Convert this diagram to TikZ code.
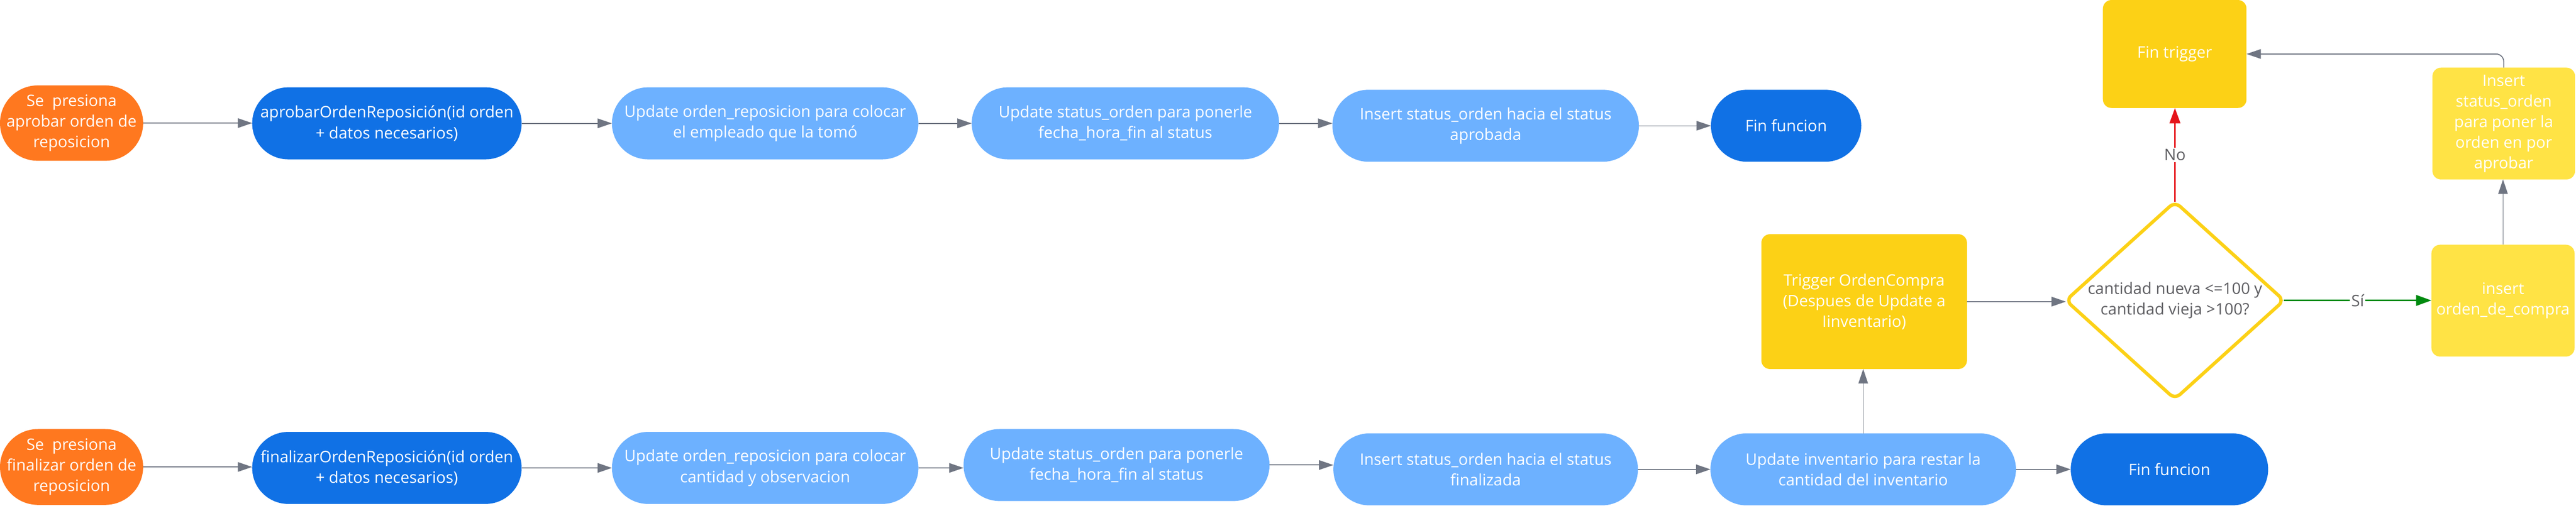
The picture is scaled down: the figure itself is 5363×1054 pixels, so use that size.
\documentclass[tikz,border=0pt]{standalone}
\usepackage{fontspec}
\setmainfont{Open Sans}
\usetikzlibrary{arrows.meta,shapes.geometric}
\definecolor{corange}{HTML}{FF781F}
\definecolor{cdblue}{HTML}{1071E5}
\definecolor{clblue}{HTML}{6DB1FF}
\definecolor{cyellow}{HTML}{FCD116}
\definecolor{clyellow}{HTML}{FFE345}
\definecolor{cgray}{HTML}{6F7582}
\definecolor{cred}{HTML}{E5141A}
\definecolor{cgreen}{HTML}{008A0F}
\definecolor{ctext}{HTML}{5E5E62}
\newcommand\fsz{\fontsize{16.5}{21.5}\selectfont}
\tikzset{
  base/.style={inner sep=0pt, outer sep=0pt, align=center, font=\fsz, text=white},
  pill/.style={base, minimum height=75pt, rounded corners=37.5pt},
  boxr/.style={base, rounded corners=9pt},
  conn/.style={draw=cgray, line width=1pt, -{Triangle[length=15pt,width=10pt]}},
  thin/.style={conn, line width=0.5pt},
  nolink/.style={draw=cred, line width=2pt, -{Triangle[length=16pt,width=11pt]}},
  silink/.style={draw=cgreen, line width=2pt, -{Triangle[length=16pt,width=11pt]}},
  lbl/.style={fill=white, text=ctext, font=\fsz, inner sep=1.5pt},
  dtext/.style={align=center, text=ctext, font=\fsz, inner sep=0pt}
}
\begin{document}
\begin{tikzpicture}[x=0.5pt,y=-0.5pt]
\useasboundingbox (0,0) rectangle (5363,1054);
% top row
\node[base, fill=corange, minimum width=149pt, minimum height=78.5pt, rounded corners=39.25pt] (o1) at (149,256.5) {Se~~presiona\\aprobar orden de\\reposicion};
\node[pill, fill=cdblue, minimum width=280.5pt] (a1) at (805.5,257) {aprobarOrdenReposición(id orden\\+ datos necesarios)};
\node[pill, fill=clblue, minimum width=319pt] (u1) at (1593,257) {Update orden\_reposicion para colocar\\el empleado que la tomó};
\node[pill, fill=clblue, minimum width=320pt] (s1) at (2343,257) {Update status\_orden para ponerle\\fecha\_hora\_fin al status};
\node[pill, fill=clblue, minimum width=319pt] (i1) at (3093,262) {Insert status\_orden hacia el status\\aprobada};
\node[pill, fill=cdblue, minimum width=156.5pt] (f1) at (3718.5,262) {Fin funcion};
% bottom row
\node[base, fill=corange, minimum width=149pt, minimum height=79pt, rounded corners=39.5pt] (o2) at (149,973) {Se~~presiona\\finalizar orden de\\reposicion};
\node[pill, fill=cdblue, minimum width=280.5pt] (a2) at (805.5,975) {finalizarOrdenReposición(id orden\\+ datos necesarios)};
\node[pill, fill=clblue, minimum width=319pt] (u2) at (1593,975) {Update orden\_reposicion para colocar\\cantidad y observacion};
\node[pill, fill=clblue, minimum width=318.5pt] (s2) at (2324.5,969) {Update status\_orden para ponerle\\fecha\_hora\_fin al status};
\node[pill, fill=clblue, minimum width=317pt] (i2) at (3093,978) {Insert status\_orden hacia el status\\finalizada};
\node[pill, fill=clblue, minimum width=318pt] (v2) at (3879,978) {Update inventario para restar la\\cantidad del inventario};
\node[pill, fill=cdblue, minimum width=205.5pt] (f2) at (4516.5,978) {Fin funcion};
% trigger section
\node[boxr, fill=cyellow, minimum width=214pt, minimum height=140.5pt] (trig) at (3881,628.5) {Trigger OrdenCompra\\(Despues de Update a\\Iinventario)};
\node[shape=diamond, draw=cyellow, line width=3.5pt, fill=white, minimum width=227pt, minimum height=205.5pt, inner sep=0pt, outer sep=0pt, rounded corners=7pt, label={[dtext]center:{cantidad nueva <=100 y\\cantidad vieja >100?}}] (dia) at (4528,626) {};
\node[boxr, fill=clyellow, minimum width=149pt, minimum height=116.5pt] (oc) at (5211,626.5) {insert\\orden\_de\_compra};
\node[boxr, fill=clyellow, minimum width=148.5pt, minimum height=116.5pt] (is) at (5212.5,257.5) {Insert\\status\_orden\\para poner la\\orden en por\\aprobar};
\node[boxr, fill=cyellow, minimum width=149.5pt, minimum height=112.5pt] (ft) at (4527.5,112.5) {Fin trigger};
% connectors top
\draw[conn] (o1.east) -- (o1.east -| a1.west);
\draw[conn] (a1.east) -- (a1.east -| u1.west);
\draw[conn] (u1.east) -- (u1.east -| s1.west);
\draw[conn] (s1.east) -- (s1.east -| i1.west);
\draw[thin] (i1.east) -- (i1.east -| f1.west);
% connectors bottom
\draw[conn] (o2.east) -- (o2.east -| a2.west);
\draw[conn] (a2.east) -- (a2.east -| u2.west);
\draw[conn] (u2.east) -- (u2.east -| s2.west);
\draw[conn] (s2.east) -- (s2.east -| i2.west);
\draw[conn] (i2.east) -- (i2.east -| v2.west);
\draw[conn] (v2.east) -- (v2.east -| f2.west);
% trigger connectors
\draw[thin] (v2.north) -- (v2.north |- trig.south);
\draw[conn] (trig.east) -- (trig.east -| dia.west);
\draw[silink] (dia.east) -- node[lbl]{Sí} (dia.east -| oc.west);
\draw[nolink] (dia.north) -- node[lbl]{No} (dia.north |- ft.south);
\draw[thin] (oc.north) -- (oc.north |- is.south);
\draw[conn, rounded corners=8pt] (is.north) |- (ft.east);
\end{tikzpicture}
\end{document}
